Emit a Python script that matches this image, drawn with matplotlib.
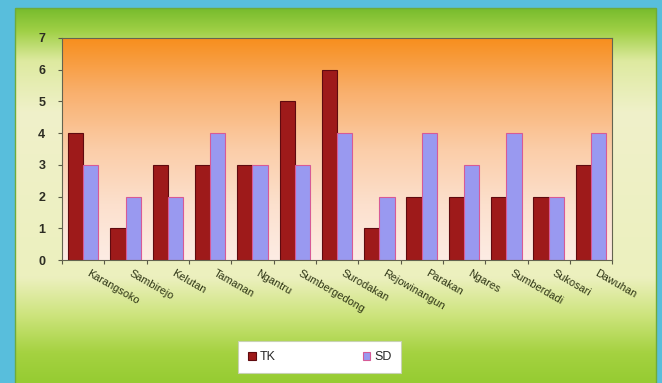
import numpy as np
from matplotlib import pyplot as plt
from matplotlib import transforms
from matplotlib.colors import LinearSegmentedColormap
from matplotlib.patches import Rectangle

# Data
desa = ["Karangsoko", "Sambirejo", "Kelutan", "Tamanan", "Ngantru",
        "Sumbergedong", "Surodakan", "Rejowinangun", "Parakan", "Ngares",
        "Sumberdadi", "Sukosari", "Dawuhan"]
tk = [4, 1, 3, 3, 3, 5, 6, 1, 2, 2, 2, 2, 3]
sd = [3, 2, 2, 4, 3, 3, 4, 2, 4, 3, 4, 2, 4]
y_ticks = [0, 1, 2, 3, 4, 5, 6, 7]


def rgb(*c):
    return tuple(v / 255 for v in c)


def background(fig):
    """Frame: teal border, green vertical gradient inside"""
    bg = fig.add_axes([0, 0, 1, 1], zorder=-10)
    bg.set_axis_off()
    bg.set_xlim(0, 662)
    bg.set_ylim(383, 0)

    # green gradient (top -> bottom)
    stops = [(0.00, rgb(120, 188, 45)), (0.06, rgb(160, 208, 70)),
             (0.14, rgb(222, 234, 160)), (0.28, rgb(240, 241, 202)),
             (0.72, rgb(236, 240, 190)), (0.82, rgb(205, 228, 125)),
             (0.92, rgb(165, 210, 65)), (1.00, rgb(150, 204, 50))]
    cmap = LinearSegmentedColormap.from_list("green", stops)
    grad = np.linspace(0, 1, 256).reshape(-1, 1)
    bg.imshow(grad, cmap=cmap, aspect="auto", extent=[15, 656, 383, 8],
              interpolation="bicubic")

    # teal border
    teal = rgb(88, 190, 220)
    bg.add_patch(Rectangle((0, 0), 15, 383, color=teal, lw=0))
    bg.add_patch(Rectangle((0, 0), 662, 8, color=teal, lw=0))
    bg.add_patch(Rectangle((656, 0), 6, 383, color=teal, lw=0))
    # thin darker inner edge
    bg.add_patch(Rectangle((15, 8), 641, 380, fill=False,
                           ec=rgb(110, 170, 60), lw=1.0))


def plot():
    plt.rcParams['font.family'] = ['Liberation Sans', 'DejaVu Sans']

    fig = plt.figure(figsize=(6.62, 3.83), dpi=100)
    background(fig)

    ax = fig.add_axes([0.0937, 0.321, 0.831, 0.580])

    # plot area gradient orange (top) -> pale peach (bottom)
    stops = [(0.00, rgb(247, 142, 28)), (0.25, rgb(249, 176, 110)),
             (0.50, rgb(251, 205, 168)), (0.75, rgb(252, 224, 205)),
             (1.00, rgb(253, 236, 228))]
    cmap = LinearSegmentedColormap.from_list("orange", stops)
    grad = np.linspace(0, 1, 256).reshape(-1, 1)
    ax.imshow(grad, cmap=cmap, aspect="auto", extent=[-0.5, 12.5, 0, 7],
              origin="upper", interpolation="bicubic", zorder=0)

    x = np.arange(len(desa))
    w = 0.36
    b1 = ax.bar(x - w / 2, tk, w, color=rgb(158, 26, 26),
                edgecolor=rgb(95, 10, 15), lw=0.8, label="TK", zorder=2)
    b2 = ax.bar(x + w / 2, sd, w, color=rgb(153, 153, 240),
                edgecolor=rgb(215, 90, 150), lw=0.8, label="SD", zorder=2)

    ax.set_xlim(-0.5, 12.5)
    ax.set_ylim(0, 7)
    ax.set_yticks(y_ticks)
    ax.tick_params(axis="y", length=3, width=0.8, pad=9,
                   color=rgb(90, 90, 70), labelsize=9,
                   labelcolor=rgb(45, 45, 35))
    for t in ax.get_yticklabels():
        t.set_fontweight("bold")

    ax.set_xticks(x)
    ax.set_xticklabels(desa, rotation=-30, ha="left", va="top",
                       rotation_mode="anchor", fontsize=7.8,
                       color=rgb(45, 52, 20))
    ax.tick_params(axis="x", which="major", length=0, pad=6)
    # geser label sedikit ke kanan
    offset = transforms.ScaledTranslation(7 / 100, 0, fig.dpi_scale_trans)
    for t in ax.get_xticklabels():
        t.set_transform(t.get_transform() + offset)
    ax.set_xticks(np.arange(-0.5, 13, 1), minor=True)
    ax.tick_params(axis="x", which="minor", length=3, width=0.8,
                   color=rgb(90, 90, 70))

    for s in ax.spines.values():
        s.set_color(rgb(100, 100, 80))
        s.set_linewidth(0.8)

    leg = fig.legend(handles=[b1, b2], loc="center",
                     bbox_to_anchor=(0.483, 0.068), ncol=2,
                     fontsize=9, frameon=True, fancybox=False,
                     framealpha=1.0,
                     handlelength=0.6, handleheight=0.6,
                     handletextpad=0.3, columnspacing=7.0,
                     borderpad=0.8, borderaxespad=0)
    leg.get_frame().set_facecolor("white")
    leg.get_frame().set_edgecolor(rgb(200, 210, 180))
    leg.get_frame().set_linewidth(0.8)
    for t in leg.get_texts():
        t.set_color(rgb(40, 40, 40))

    fig.savefig("out.png", dpi=100)
    plt.close(fig)


if __name__ == '__main__':
    plot()
